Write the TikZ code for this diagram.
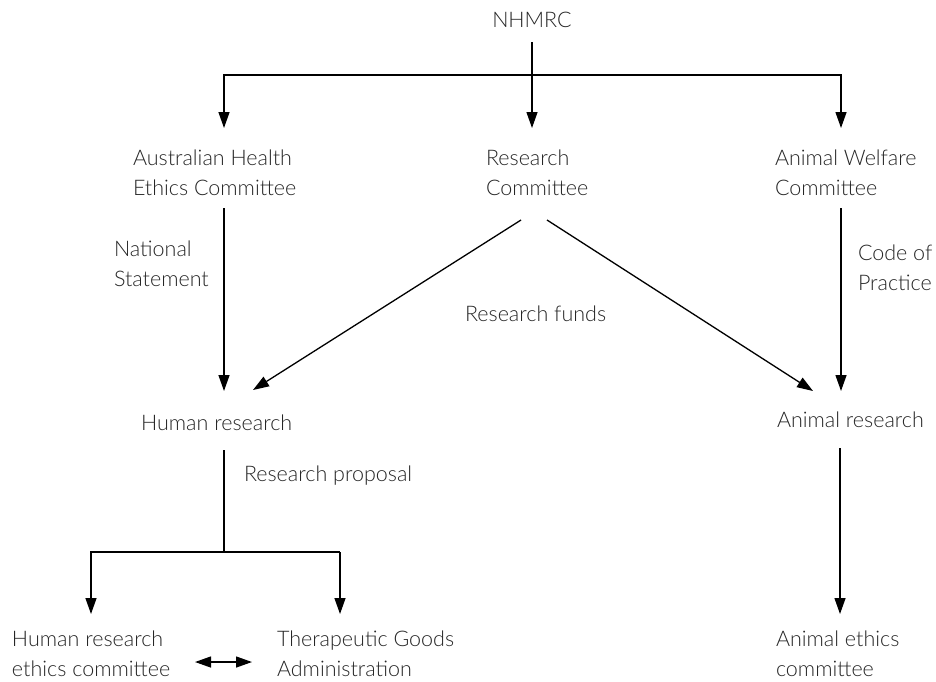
\documentclass[tikz,border=0pt]{standalone}
\usepackage{fontspec}
\setmainfont{Lato Light}
\usetikzlibrary{arrows.meta}
\begin{document}
\begin{tikzpicture}[x=1pt,y=-1pt,
  lbl/.style={inner sep=0pt,outer sep=0pt,align=left,anchor=west,font=\fontsize{21.5}{29.5}\selectfont,text=black!85},
  conn/.style={line width=1.3pt,-{Triangle[width=11pt,length=16pt]}},
  plain/.style={line width=1.3pt},
  both/.style={line width=1.3pt,{Triangle[width=11pt,length=16pt]}-{Triangle[width=11pt,length=16pt]}}]
\useasboundingbox (0,0) rectangle (936,681);
% text nodes
\node[lbl,anchor=center] (nhmrc) at (532,20) {NHMRC};
\node[lbl] (ahec) at (133,173) {Australian Health\\Ethics Committee};
\node[lbl] (rc) at (486,173) {Research\\Committee};
\node[lbl] (awc) at (775,173) {Animal Welfare\\Committee};
\node[lbl] (ns) at (114,264) {National\\Statement};
\node[lbl] (rf) at (465,314) {Research funds};
\node[lbl] (cop) at (858,268) {Code of\\Practice};
\node[lbl] (hr) at (141,423) {Human research};
\node[lbl] (ar) at (777,420) {Animal research};
\node[lbl] (rp) at (244,476) {Research proposal};
\node[lbl] (hrec) at (12,654) {Human research\\ethics committee};
\node[lbl] (tga) at (277,654) {Therapeutic Goods\\Administration};
\node[lbl] (aec) at (776,654) {Animal ethics\\committee};
% coordinates
\coordinate (n0) at (532,42);
\coordinate (hl) at (224,75);
\coordinate (hrr) at (841,75);
\coordinate (ahecT) at (224,128);
\coordinate (rcT) at (532,128);
\coordinate (awcT) at (841,128);
\coordinate (ahecB) at (224,208);
\coordinate (hrT) at (224,391);
\coordinate (rcB1) at (521,220);
\coordinate (rcB2) at (547,220);
\coordinate (hrT2) at (253,390);
\coordinate (arT2) at (813,391);
\coordinate (awcB) at (841,208);
\coordinate (arT) at (841,391);
\coordinate (hrB) at (224,450);
\coordinate (split) at (224,552);
\coordinate (sl) at (91,552);
\coordinate (sr) at (340,552);
\coordinate (hrecT) at (91,614);
\coordinate (tgaT) at (340,614);
\coordinate (arB) at (840,448);
\coordinate (aecT) at (840,614);
\coordinate (dl) at (195,662);
\coordinate (dr) at (252,662);
% connectors
\draw[conn] (n0) -- (rcT);
\draw[conn] (hrr) |- (hl) -- (ahecT);
\draw[conn] (hl) -| (awcT);
\draw[conn] (ahecB) -- (hrT);
\draw[conn] (rcB1) -- (hrT2);
\draw[conn] (rcB2) -- (arT2);
\draw[conn] (awcB) -- (arT);
\draw[plain] (hrB) -- (split);
\draw[conn] (sr) -- (sl) -- (hrecT);
\draw[conn] (sr) -- (tgaT);
\draw[conn] (arB) -- (aecT);
\draw[both] (dl) -- (dr);
\end{tikzpicture}
\end{document}
